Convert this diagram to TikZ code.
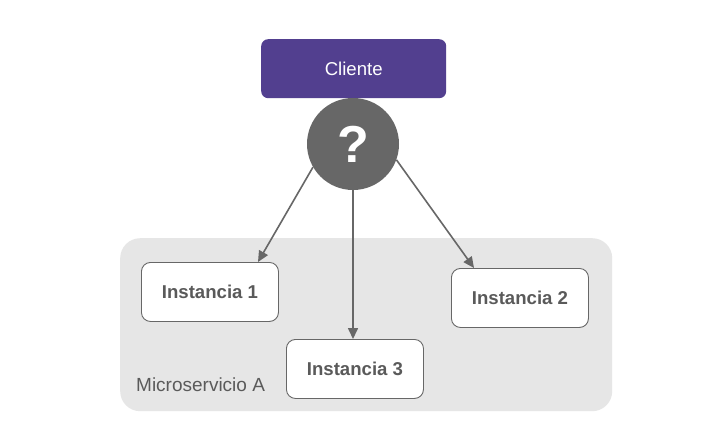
\documentclass[tikz,border=0pt]{standalone}
\usepackage{fontspec}
\setmainfont{Liberation Sans}
\usetikzlibrary{arrows.meta}
\definecolor{purp}{HTML}{523F8F}
\definecolor{dgray}{HTML}{676767}
\definecolor{cont}{HTML}{E6E6E6}
\definecolor{txt}{HTML}{5A5A5A}
\tikzset{
  inst/.style={draw=dgray, line width=0.9pt, fill=white, rounded corners=9pt, minimum width=137pt, minimum height=59pt, text=txt, font=\fontsize{18.6}{20}\selectfont\bfseries, anchor=north west},
  conn/.style={draw=dgray, line width=1.6pt, -{Triangle[length=11pt,width=10pt]}}
}
\begin{document}
\begin{tikzpicture}[x=1pt,y=-1pt]
\useasboundingbox (0,0) rectangle (708,431);
\fill[white] (0,0) rectangle (708,431);
\node[fill=cont, rounded corners=20pt, minimum width=492pt, minimum height=173pt, anchor=north west, inner sep=0pt] (ms) at (120,238) {};
\node[anchor=west, text=txt, font=\fontsize{19}{21}\selectfont, inner sep=0pt] (mslabel) at (136,385) {Microservicio A};
\node[fill=purp, rounded corners=7pt, minimum width=185pt, minimum height=59pt, anchor=north west, text=white, font=\fontsize{18.6}{20}\selectfont, inner sep=0pt] (cli) at (261,39) {Cliente};
\node[circle, fill=dgray, minimum size=92pt, inner sep=0pt, text=white, font=\fontsize{52}{56}\selectfont\bfseries] (q) at (353,144) {?};
\node[inst] (i1) at (141,262) {Instancia 1};
\node[inst] (i2) at (451,268) {Instancia 2};
\node[inst] (i3) at (286,339) {Instancia 3};
\draw[conn] (q.210) -- ([xshift=117pt]i1.north west);
\draw[conn] (q.340) -- ([xshift=23pt]i2.north west);
\draw[conn] (q.south) -- (q.south |- i3.north);
\end{tikzpicture}
\end{document}
